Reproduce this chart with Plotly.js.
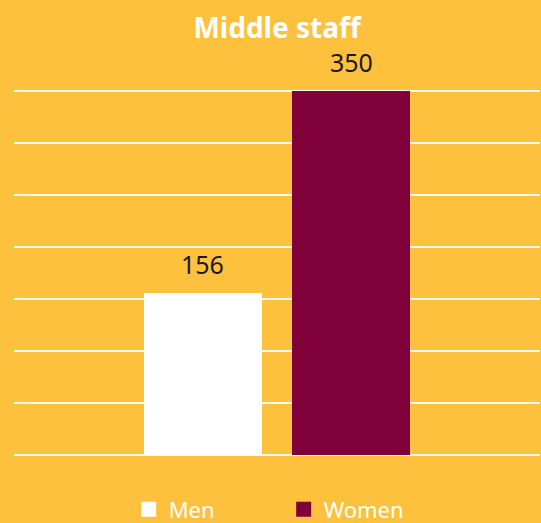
<!DOCTYPE html>
<html>
<head>
<meta charset="utf-8">
<script src="https://cdn.plot.ly/plotly-3.0.1.min.js"></script>
<style>html,body{margin:0;padding:0;background:#FDC13D;}</style>
</head>
<body>
<div id="chart" style="width:541px;height:523px;"></div>
<script>
const chartTitle = "Middle staff";
const seriesNames = ["Men", "Women"];
const seriesValues = [156, 350];
const seriesColors = ["#FFFFFF", "#80003A"];

const barTraces = seriesNames.map((name, i) => ({
  type: "bar",
  name: name,
  x: [name],
  y: [seriesValues[i]],
  width: 0.795,
  marker: { color: seriesColors[i] },
  showlegend: false,
  hoverinfo: "none"
}));

const legendTraces = seriesNames.map((name, i) => ({
  type: "scatter",
  mode: "markers",
  name: name,
  x: [null],
  y: [null],
  marker: { symbol: "square", size: 15, color: seriesColors[i] },
  showlegend: true,
  hoverinfo: "none"
}));

const annotations = seriesNames.map((name, i) => ({
  x: name,
  y: seriesValues[i],
  xref: "x",
  yref: "y",
  text: String(seriesValues[i]),
  showarrow: false,
  yanchor: "bottom",
  yshift: 10,
  font: { family: "Noto Sans, Open Sans, sans-serif", size: 25, color: "#1a1a1a" }
}));

const layout = {
  width: 541,
  height: 523,
  paper_bgcolor: "#FDC13D",
  plot_bgcolor: "#FDC13D",
  margin: { l: 14, r: 1, t: 86, b: 68 },
  title: {
    text: "<b>" + chartTitle + "</b>",
    x: 0.5, xref: "paper", xanchor: "center",
    y: 0.946, yref: "container", yanchor: "middle",
    font: { family: "Noto Sans, Open Sans, sans-serif", size: 28, color: "#FFFFFF" }
  },
  xaxis: {
    type: "category",
    range: [-1.273, 2.27],
    showticklabels: false,
    showgrid: false,
    zeroline: false,
    showline: false,
    ticks: "",
    fixedrange: true
  },
  yaxis: {
    range: [0, 355],
    tickvals: [0, 50, 100, 150, 200, 250, 300, 350],
    showticklabels: false,
    showgrid: true,
    gridcolor: "rgba(255,255,255,0.92)",
    gridwidth: 1.6,
    zeroline: true,
    zerolinecolor: "rgba(255,255,255,0.92)",
    zerolinewidth: 1.6,
    showline: false,
    ticks: "",
    fixedrange: true
  },
  showlegend: true,
  legend: {
    orientation: "h",
    x: 0.218, xanchor: "left", xref: "paper",
    y: 0.026, yanchor: "middle", yref: "container",
    font: { family: "Noto Sans, Open Sans, sans-serif", size: 22, color: "#FFFFFF" },
    bgcolor: "rgba(0,0,0,0)",
    entrywidth: 110,
    entrywidthmode: "pixels",
    itemclick: false,
    itemdoubleclick: false
  },
  annotations: annotations,
  bargap: 0
};

Plotly.newPlot("chart", barTraces.concat(legendTraces), layout, { displayModeBar: false, staticPlot: true });
</script>
</body>
</html>
